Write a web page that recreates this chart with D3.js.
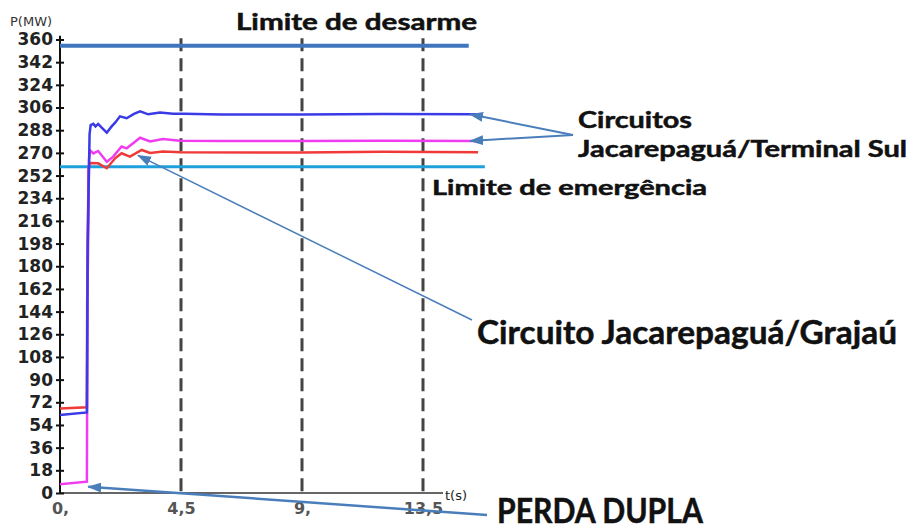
<!DOCTYPE html>
<html>
<head>
<meta charset="utf-8">
<script src="https://cdn.jsdelivr.net/npm/d3@7"></script>
<style>
  body { margin: 0; background: #fff; }
  svg { display: block; }
</style>
</head>
<body>
<script>
'use strict';

// --- chart data ---
const yTicks = d3.range(0, 361, 18);
const xTicks = [0, 4.5, 9, 13.5];
const xTickLabels = ["0,", "4,5", "9,", "13,5"];

// Circuito Jacarepaguá/Terminal Sul (blue)
const blueT = [0, 1.0, 1.03, 1.1, 1.14, 1.24, 1.32, 1.42, 1.55, 1.74, 1.92, 2.05, 2.23, 2.48, 2.75, 2.98, 3.28, 3.72, 4.2, 4.6, 6, 9, 12, 15.55];
const blueP = [62, 64, 200, 285, 292, 293, 291, 293, 290, 286, 291, 294, 299, 297.5, 301, 303, 300.6, 302, 301, 301, 300.5, 300.5, 300.8, 300.6];

// Circuito Jacarepaguá/Terminal Sul (magenta)
const magentaT = [0, 1.0, 1.02, 1.08, 1.12, 1.24, 1.42, 1.74, 1.98, 2.29, 2.48, 2.98, 3.35, 3.83, 4.46, 6, 9, 12, 15.55];
const magentaP = [7, 9, 150, 265, 272, 269.6, 271.5, 263, 267, 275, 273.6, 282, 279, 281, 279.7, 279.5, 279.5, 279.6, 279.5];

// Circuito Jacarepaguá/Grajaú (red)
const redT = [0, 1.0, 1.01, 1.06, 1.12, 1.42, 1.74, 2.05, 2.29, 2.6, 3.04, 3.35, 3.83, 4.5, 9, 12, 15.55];
const redP = [67, 68, 150, 258, 262, 261.7, 257.8, 265.7, 269.7, 267, 272.3, 270, 271, 270.5, 270.3, 270.8, 270.5];

const limitTrip = 355;       // Limite de desarme
const limitEmergency = 259;  // Limite de emergência
const tripEnd = 15.2;
const emergencyEnd = 15.8;

let svg = "";

window.onload = function() {
  svg = d3.select('body')
    .append('svg')
    .attr('width', 915)
    .attr('height', 530);

  // arrow marker
  svg.append('defs').append('marker')
    .attr('id', 'arrow')
    .attr('markerUnits', 'userSpaceOnUse')
    .attr('viewBox', '0 0 14 10')
    .attr('refX', 13)
    .attr('refY', 5)
    .attr('markerWidth', 14)
    .attr('markerHeight', 10)
    .attr('orient', 'auto')
    .append('path')
    .attr('d', 'M0,0 L14,5 L0,10 Z')
    .attr('fill', '#4a7ebb');

  let scales = drawAxes();
  drawLimits(scales);
  drawSeries(scales);
  drawAnnotations(scales);
};

function drawAxes() {
  let x = d3.scaleLinear().domain([0, 13.5]).range([60, 423]);
  let y = d3.scaleLinear().domain([0, 360]).range([493, 39.5]);

  // dashed verticals
  svg.selectAll('.vgrid')
    .data(xTicks.slice(1))
    .enter()
    .append('line')
    .attr('x1', d => x(d)).attr('x2', d => x(d))
    .attr('y1', y(361)).attr('y2', y(0))
    .attr('stroke', '#444')
    .attr('stroke-width', 3)
    .attr('stroke-dasharray', '13,7');

  // x axis
  let xAxis = d3.axisBottom(x)
    .tickValues(xTicks)
    .tickFormat((d, i) => xTickLabels[i])
    .tickSizeInner(0)
    .tickSizeOuter(0)
    .tickPadding(10);

  let gx = svg.append('g')
    .attr('transform', 'translate(0,' + y(0) + ')')
    .call(xAxis);
  gx.select('.domain').remove();
  gx.append('line')
    .attr('x1', x(0)).attr('x2', 443)
    .attr('stroke', '#666').attr('stroke-width', 2);
  gx.selectAll('text')
    .attr('font-family', 'DejaVu Sans')
    .attr('font-weight', 'bold')
    .attr('font-size', 16)
    .attr('fill', '#555');

  // y axis
  let yAxis = d3.axisLeft(y)
    .tickValues(yTicks)
    .tickSizeInner(4)
    .tickSizeOuter(0)
    .tickPadding(3);

  let gy = svg.append('g')
    .attr('transform', 'translate(' + x(0) + ',0)')
    .call(yAxis);
  gy.select('.domain').remove();
  gy.append('line')
    .attr('y1', y(363)).attr('y2', y(0))
    .attr('stroke', '#111').attr('stroke-width', 2);
  gy.selectAll('.tick line')
    .attr('x1', 4).attr('x2', -4)
    .attr('stroke', '#111').attr('stroke-width', 2);
  gy.selectAll('text')
    .attr('font-family', 'DejaVu Sans')
    .attr('font-weight', 'bold')
    .attr('font-size', 17)
    .attr('fill', '#222');

  // axis titles
  svg.append('text')
    .attr('x', 10).attr('y', 26)
    .attr('font-family', 'DejaVu Sans')
    .attr('font-size', 13)
    .attr('fill', '#333')
    .text('P(MW)');

  svg.append('text')
    .attr('x', 445).attr('y', 500)
    .attr('font-family', 'DejaVu Sans')
    .attr('font-size', 13)
    .attr('fill', '#222')
    .text('t(s)');

  return { x: x, y: y };
}

function drawLimits(s) {
  // Limite de desarme
  svg.append('line')
    .attr('x1', s.x(0)).attr('x2', s.x(tripEnd))
    .attr('y1', s.y(limitTrip)).attr('y2', s.y(limitTrip))
    .attr('stroke', '#3f76bf').attr('stroke-width', 4);

  // Limite de emergência
  svg.append('line')
    .attr('x1', s.x(0)).attr('x2', s.x(emergencyEnd))
    .attr('y1', s.y(limitEmergency)).attr('y2', s.y(limitEmergency))
    .attr('stroke', '#1ea0dd').attr('stroke-width', 3);
}

function drawSeries(s) {
  let line = d3.line()
    .x(d => s.x(d[0]))
    .y(d => s.y(d[1]));

  let series = [
    { t: redT, p: redP, color: '#f03a3a' },
    { t: magentaT, p: magentaP, color: '#f03cf0' },
    { t: blueT, p: blueP, color: '#3a3ae6' }
  ];

  series.forEach(ser => {
    let pts = ser.t.map((t, i) => [t, ser.p[i]]);
    svg.append('path')
      .datum(pts)
      .attr('d', line)
      .attr('fill', 'none')
      .attr('stroke', ser.color)
      .attr('stroke-width', 2.5);
  });
}

function drawAnnotations(s) {
  let font = 'Lato, "Open Sans", sans-serif';

  function label(x, y, size, len, str) {
    svg.append('text')
      .attr('x', x).attr('y', y)
      .attr('font-family', font)
      .attr('font-weight', 'bold')
      .attr('font-size', size)
      .attr('fill', '#111')
      .attr('stroke', '#111')
      .attr('stroke-width', 0.5)
      .attr('textLength', len)
      .attr('lengthAdjust', 'spacingAndGlyphs')
      .text(str);
  }

  label(236, 30, 22, 241, 'Limite de desarme');
  label(578, 128, 22, 114, 'Circuitos');
  label(578, 157, 22, 329, 'Jacarepaguá/Terminal Sul');
  label(432, 195, 21, 275, 'Limite de emergência');
  label(477, 344, 32, 420, 'Circuito Jacarepaguá/Grajaú');
  label(497, 523, 34, 206, 'PERDA DUPLA');

  function arrow(x1, y1, x2, y2, w) {
    svg.append('line')
      .attr('x1', x1).attr('y1', y1)
      .attr('x2', x2).attr('y2', y2)
      .attr('stroke', '#4a7ebb')
      .attr('stroke-width', w)
      .attr('marker-end', 'url(#arrow)');
  }

  // Circuitos -> blue & magenta ends
  arrow(573, 135, s.x(15.25), s.y(blueP[blueP.length - 1]), 2);
  arrow(573, 135, s.x(15.25), s.y(magentaP[magentaP.length - 1]), 2);
  // Grajaú -> red curve
  arrow(472, 320, s.x(2.9), s.y(268), 1.5);
  // PERDA DUPLA -> magenta before step
  arrow(487, 515, s.x(1.05), s.y(5), 2.5);
}
</script>
</body>
</html>
